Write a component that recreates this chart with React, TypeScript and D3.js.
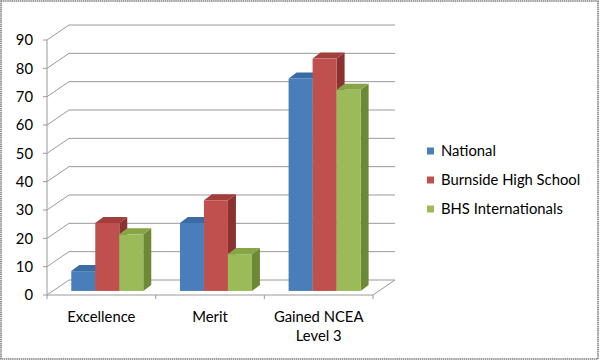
import React from "react";
import * as d3 from "d3";

const categories = ["Excellence", "Merit", "Gained NCEA|Level 3"];
const series = ["National", "Burnside High School", "BHS Internationals"];
const national = [7, 24, 75];
const burnside = [24, 32, 82];
const bhsIntl = [20, 13, 71];
const yTicks = [0, 10, 20, 30, 40, 50, 60, 70, 80, 90];

const faces = [
  { front: "#4A7EBB", top: "#3B6BA3", side: "#2F5787" },
  { front: "#C0504D", top: "#A23E3B", side: "#8A3230" },
  { front: "#9BBB59", top: "#87A547", side: "#6D8935" },
];

const W = 601;
const H = 361;
const FONT = "Lato, 'Liberation Sans', sans-serif";
const FS = 14.8;

export default function App() {
  const values = [national, burnside, bhsIntl];
  const x0 = 47, x1 = 373;
  const yBase = 295, yTop = 40;
  const depthX = 22, depthY = -15;
  const y = d3.scaleLinear().domain([0, 90]).range([yBase, yTop]);
  const xc = d3.scaleBand().domain(categories).range([x0, x1]).paddingInner(0).paddingOuter(0);
  const groupW = 72;
  const xs = d3.scaleBand().domain(series).range([0, groupW]).padding(0);
  const f = 0.27;
  const bOffX = depthX * f, bOffY = depthY * f;
  const bdX = 8, bdY = -6;

  const grid = "#9a9a9a";

  return (
    <div style={{ position: "absolute", left: 0, top: 0 }}>
      <svg width={W} height={H} style={{ display: "block" }}>
        <rect x={0} y={0} width={W} height={H} fill="#fff" />
        <rect x={1} y={1} width={597} height={358} fill="none" stroke="#808080" strokeWidth={1.6} strokeDasharray="1.5 0.6" />
        {/* gridlines: side wall diagonals + back wall */}
        {yTicks.map((t) => (
          <g key={t}>
            <line x1={x0} y1={y(t)} x2={x0 + depthX} y2={y(t) + depthY} stroke={grid} strokeWidth={1} />
            <line x1={x0 + depthX} y1={y(t) + depthY} x2={x1 + depthX} y2={y(t) + depthY} stroke={grid} strokeWidth={1} />
          </g>
        ))}
        {/* floor */}
        <line x1={x0} y1={yBase} x2={x1} y2={yBase} stroke={grid} strokeWidth={1} />
        <line x1={x1} y1={yBase} x2={x1 + depthX} y2={yBase + depthY} stroke={grid} strokeWidth={1} />
        {/* y axis */}
        <line x1={x0} y1={yTop} x2={x0} y2={yBase} stroke={grid} strokeWidth={1} />
        {yTicks.map((t) => (
          <g key={"yt" + t}>
            <line x1={x0 - 4} y1={y(t)} x2={x0} y2={y(t)} stroke={grid} strokeWidth={1} />
            <text x={33} y={y(t)} dy="0.35em" textAnchor="end" fontFamily={FONT} fontSize={FS} fill="#000">
              {t}
            </text>
          </g>
        ))}
        {/* x ticks */}
        {[x0, ...categories.map((c) => (xc(c) as number) + xc.bandwidth())].map((xx, i) => (
          <line key={"xt" + i} x1={xx} y1={yBase} x2={xx} y2={yBase + 4} stroke={grid} strokeWidth={1} />
        ))}
        {/* bars */}
        {categories.map((c, ci) => {
          const cx = (xc(c) as number) + xc.bandwidth() / 2;
          const gx = cx - groupW / 2 + bOffX;
          return (
            <g key={c}>
              {series.map((s, si) => {
                const v = values[si][ci];
                const bx = gx + (xs(s) as number);
                const bw = xs.bandwidth();
                const by = y(v) + bOffY;
                const bb = yBase + bOffY;
                const fc = faces[si];
                const side = `M${bx + bw},${by} L${bx + bw + bdX},${by + bdY} L${bx + bw + bdX},${bb + bdY} L${bx + bw},${bb} Z`;
                const top = `M${bx},${by} L${bx + bdX},${by + bdY} L${bx + bw + bdX},${by + bdY} L${bx + bw},${by} Z`;
                return (
                  <g key={s}>
                    <path d={side} fill={fc.side} />
                    <path d={top} fill={fc.top} />
                    <rect x={bx} y={by} width={bw} height={bb - by} fill={fc.front} />
                  </g>
                );
              })}
            </g>
          );
        })}
        {/* category labels */}
        {categories.map((c) => {
          const cx = (xc(c) as number) + xc.bandwidth() / 2;
          const lines = c.split("|");
          return (
            <text key={"l" + c} x={cx} y={317} textAnchor="middle" fontFamily={FONT} fontSize={FS} fill="#000">
              {lines.map((ln, i) => (
                <tspan key={i} x={cx} y={317 + i * 19} dy="0.35em">
                  {ln}
                </tspan>
              ))}
            </text>
          );
        })}
        {/* legend */}
        {series.map((s, si) => {
          const ly = 151 + si * 29;
          return (
            <g key={"lg" + s}>
              <rect x={427} y={ly - 3.5} width={7} height={7} fill={faces[si].front} />
              <text x={441} y={ly} dy="0.35em" fontFamily={FONT} fontSize={FS} fill="#000">
                {s}
              </text>
            </g>
          );
        })}
      </svg>
    </div>
  );
}
